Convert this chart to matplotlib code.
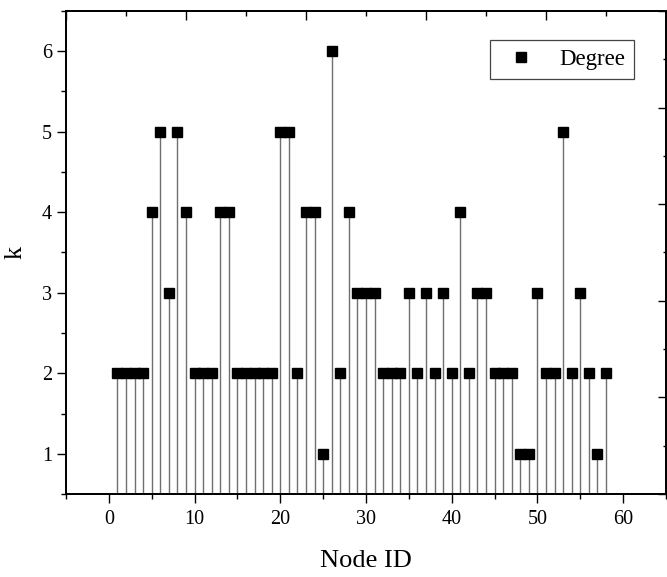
import matplotlib
matplotlib.use("Agg")
import matplotlib.pyplot as plt
from matplotlib.ticker import MultipleLocator, NullFormatter

# ---- data ----
node_id = list(range(1, 59))
degree = [2, 2, 2, 2, 4, 5, 3, 5, 4, 2,
          2, 2, 4, 4, 2, 2, 2, 2, 2, 5,
          5, 2, 4, 4, 1, 6, 2, 4, 3, 3,
          3, 2, 2, 2, 3, 2, 3, 2, 3, 2,
          4, 2, 3, 3, 2, 2, 2, 1, 1, 3,
          2, 2, 5, 2, 3, 2, 1, 2]
x_ticks = [0, 10, 20, 30, 40, 50, 60]
y_ticks = [1, 2, 3, 4, 5, 6]
series_label = "Degree"
x_label = "Node ID"
y_label = "k"

plt.rcParams['font.family'] = ['Liberation Serif', 'DejaVu Serif']

fig = plt.figure(figsize=(6.67, 5.77), dpi=100)
ax = fig.add_axes([0.099, 0.1438, 0.8995, 0.8372])

ax.set_xlim(-5, 65)
ax.set_ylim(0.5, 6.5)

ax.vlines(node_id, ax.get_ylim()[0], degree, colors='#6f6f6f', linewidth=1.0, zorder=2)
ax.plot(node_id, degree, 's', color='black', markersize=7.2, linestyle='none',
        label=series_label, zorder=3)

ax.set_xticks(x_ticks)
ax.set_yticks(y_ticks)
ax.xaxis.set_minor_locator(MultipleLocator(5))
ax.yaxis.set_minor_locator(MultipleLocator(0.5))
ax.tick_params(which='major', direction='out', length=6.5, width=1.0, labelsize=14.5,
               top=False, right=False)
ax.tick_params(axis='x', which='major', pad=5)
ax.tick_params(which='minor', direction='out', length=3.3, width=1.0,
               top=False, right=False)
for s in ax.spines.values():
    s.set_linewidth(1.1)

ax.set_xlabel(x_label, fontsize=19, va='center')
ax.xaxis.set_label_coords(0.5, -0.139)
ax.set_ylabel(y_label, fontsize=19, va='center')
ax.yaxis.set_label_coords(-0.084, 0.5)

# top and right axes (ticks only, inward)
axt = ax.twiny()
axt.set_xlim(0, 5)
axt.xaxis.set_major_locator(MultipleLocator(1))
axt.xaxis.set_minor_locator(MultipleLocator(0.5))
axt.xaxis.set_major_formatter(NullFormatter())
axt.tick_params(which='major', direction='in', length=6.5, width=1.0)
axt.tick_params(which='minor', direction='in', length=3.3, width=1.0)

axr = ax.twinx()
axr.set_ylim(0, 5)
axr.yaxis.set_major_locator(MultipleLocator(1))
axr.yaxis.set_minor_locator(MultipleLocator(0.5))
axr.yaxis.set_major_formatter(NullFormatter())
axr.tick_params(which='major', direction='in', length=5.5, width=1.0)
axr.tick_params(which='minor', direction='in', length=2.5, width=1.0)
for a in (axt, axr):
    for s in a.spines.values():
        s.set_linewidth(1.1)

leg = ax.legend(loc='upper right', bbox_to_anchor=(0.947, 0.94), borderaxespad=0,
                fontsize=16.5, handlelength=1.9, handletextpad=0.7, borderpad=0.4,
                fancybox=False, framealpha=1, edgecolor='#444444', numpoints=1)
leg.get_frame().set_linewidth(0.9)
leg.set_zorder(10)

fig.savefig("out.png", dpi=100)
